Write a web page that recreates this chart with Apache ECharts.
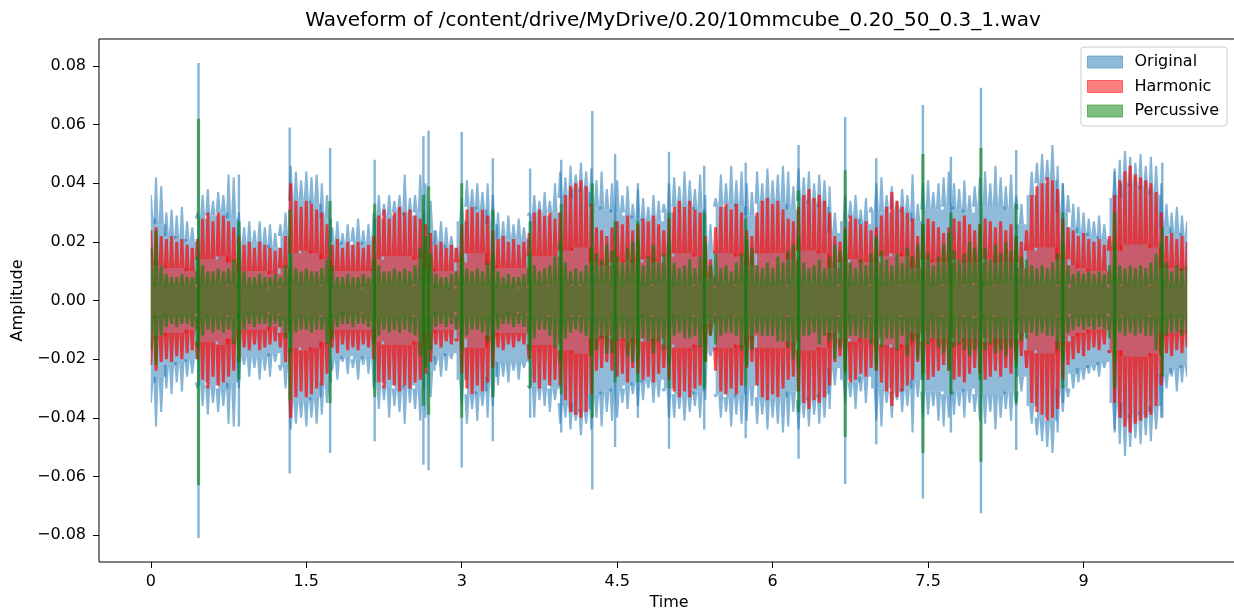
<!DOCTYPE html>
<html>
<head>
<meta charset="utf-8">
<script src="https://cdn.jsdelivr.net/npm/echarts@6/dist/echarts.min.js"></script>
<style>
  html, body { margin: 0; padding: 0; background: #ffffff; }
  #chart { width: 1234px; height: 612px; }
</style>
</head>
<body>
<div id="chart"></div>
<script>
// Waveform envelopes of the original signal and its harmonic / percussive parts.
const TITLE = 'Waveform of /content/drive/MyDrive/0.20/10mmcube_0.20_50_0.3_1.wav';
const SERIES_NAMES = ['Original', 'Harmonic', 'Percussive'];
const FRAME_STEP = 0.05;   // seconds between envelope frames
const CORE_STEP = 0.1;     // seconds between steady-core frames

// Original signal: upper / lower envelope, one value per frame (0 .. 10 s)
const origHi = [
  0.036, 0.042, 0.039, 0.030, 0.031, 0.029, 0.032, 0.027, 0.025, 0.030,
  0.036, 0.038, 0.034, 0.037, 0.036, 0.043, 0.042, 0.030, 0.025, 0.027,
  0.024, 0.027, 0.025, 0.026, 0.023, 0.026, 0.030, 0.046, 0.044, 0.041,
  0.044, 0.042, 0.043, 0.040, 0.036, 0.025, 0.027, 0.023, 0.026, 0.025,
  0.028, 0.024, 0.026, 0.030, 0.036, 0.033, 0.036, 0.034, 0.036, 0.043,
  0.035, 0.036, 0.043, 0.040, 0.034, 0.024, 0.027, 0.025, 0.022, 0.026,
  0.035, 0.041, 0.038, 0.040, 0.037, 0.040, 0.036, 0.030, 0.027, 0.029,
  0.026, 0.028, 0.025, 0.030, 0.036, 0.034, 0.037, 0.034, 0.040, 0.044,
  0.042, 0.046, 0.043, 0.047, 0.044, 0.045, 0.041, 0.044, 0.038, 0.040,
  0.041, 0.036, 0.039, 0.033, 0.038, 0.035, 0.032, 0.036, 0.034, 0.033,
  0.040, 0.042, 0.039, 0.044, 0.041, 0.038, 0.043, 0.036, 0.026, 0.035,
  0.043, 0.040, 0.046, 0.041, 0.044, 0.040, 0.037, 0.044, 0.040, 0.045,
  0.041, 0.043, 0.046, 0.044, 0.039, 0.045, 0.042, 0.044, 0.040, 0.043,
  0.041, 0.039, 0.030, 0.027, 0.036, 0.034, 0.036, 0.031, 0.035, 0.032,
  0.040, 0.042, 0.036, 0.039, 0.034, 0.038, 0.036, 0.043, 0.033, 0.040,
  0.041, 0.037, 0.040, 0.042, 0.044, 0.040, 0.038, 0.041, 0.036, 0.039,
  0.042, 0.044, 0.040, 0.046, 0.042, 0.039, 0.043, 0.036, 0.033, 0.036,
  0.044, 0.047, 0.050, 0.048, 0.053, 0.046, 0.040, 0.036, 0.033, 0.032,
  0.030, 0.028, 0.027, 0.029, 0.026, 0.030, 0.044, 0.048, 0.051, 0.049,
  0.047, 0.050, 0.046, 0.049, 0.046, 0.040, 0.033, 0.030, 0.032, 0.029,
  0.027
];
const origLo = [
  -0.035, -0.043, -0.038, -0.030, -0.032, -0.028, -0.031, -0.026, -0.025, -0.030,
  -0.036, -0.039, -0.035, -0.038, -0.036, -0.042, -0.043, -0.030, -0.022, -0.026,
  -0.023, -0.027, -0.024, -0.026, -0.021, -0.024, -0.030, -0.044, -0.042, -0.040,
  -0.043, -0.040, -0.042, -0.039, -0.035, -0.024, -0.027, -0.021, -0.025, -0.023,
  -0.027, -0.022, -0.025, -0.030, -0.037, -0.034, -0.040, -0.036, -0.038, -0.042,
  -0.035, -0.037, -0.041, -0.040, -0.033, -0.022, -0.026, -0.024, -0.020, -0.025,
  -0.036, -0.042, -0.037, -0.041, -0.036, -0.040, -0.036, -0.029, -0.026, -0.028,
  -0.024, -0.027, -0.023, -0.030, -0.040, -0.034, -0.036, -0.038, -0.034, -0.042,
  -0.040, -0.044, -0.041, -0.046, -0.042, -0.044, -0.040, -0.043, -0.038, -0.041,
  -0.040, -0.035, -0.037, -0.032, -0.036, -0.034, -0.030, -0.035, -0.033, -0.031,
  -0.040, -0.040, -0.037, -0.041, -0.038, -0.036, -0.040, -0.034, -0.019, -0.033,
  -0.040, -0.038, -0.043, -0.039, -0.042, -0.041, -0.036, -0.042, -0.039, -0.044,
  -0.040, -0.042, -0.045, -0.043, -0.038, -0.044, -0.040, -0.043, -0.039, -0.042,
  -0.040, -0.037, -0.029, -0.026, -0.035, -0.033, -0.037, -0.031, -0.035, -0.030,
  -0.041, -0.043, -0.035, -0.040, -0.034, -0.038, -0.036, -0.045, -0.033, -0.040,
  -0.039, -0.036, -0.041, -0.043, -0.040, -0.039, -0.036, -0.040, -0.035, -0.038,
  -0.041, -0.042, -0.038, -0.044, -0.040, -0.037, -0.041, -0.036, -0.031, -0.035,
  -0.042, -0.046, -0.048, -0.050, -0.052, -0.045, -0.038, -0.033, -0.030, -0.028,
  -0.027, -0.025, -0.024, -0.026, -0.023, -0.028, -0.044, -0.049, -0.053, -0.050,
  -0.047, -0.049, -0.046, -0.048, -0.044, -0.040, -0.030, -0.026, -0.031, -0.028,
  -0.026
];

// Harmonic component envelope
const harmHi = [
  0.024, 0.025, 0.022, 0.021, 0.022, 0.020, 0.021, 0.019, 0.018, 0.021,
  0.028, 0.030, 0.027, 0.030, 0.029, 0.027, 0.025, 0.022, 0.019, 0.020,
  0.018, 0.020, 0.019, 0.018, 0.017, 0.018, 0.022, 0.040, 0.034, 0.032,
  0.034, 0.033, 0.031, 0.030, 0.026, 0.019, 0.021, 0.018, 0.020, 0.019,
  0.020, 0.018, 0.019, 0.022, 0.029, 0.031, 0.028, 0.030, 0.032, 0.030,
  0.031, 0.029, 0.028, 0.026, 0.023, 0.019, 0.020, 0.018, 0.019, 0.018,
  0.026, 0.031, 0.032, 0.030, 0.031, 0.029, 0.024, 0.021, 0.022, 0.020,
  0.021, 0.019, 0.020, 0.023, 0.030, 0.031, 0.029, 0.030, 0.028, 0.030,
  0.036, 0.039, 0.040, 0.041, 0.039, 0.033, 0.025, 0.024, 0.022, 0.025,
  0.027, 0.026, 0.029, 0.024, 0.026, 0.028, 0.027, 0.029, 0.026, 0.024,
  0.028, 0.032, 0.034, 0.032, 0.034, 0.031, 0.030, 0.022, 0.014, 0.025,
  0.032, 0.033, 0.031, 0.033, 0.030, 0.024, 0.022, 0.030, 0.034, 0.035,
  0.033, 0.034, 0.031, 0.028, 0.027, 0.032, 0.036, 0.038, 0.035, 0.036,
  0.034, 0.030, 0.022, 0.020, 0.025, 0.029, 0.028, 0.026, 0.027, 0.024,
  0.025, 0.029, 0.032, 0.037, 0.034, 0.032, 0.030, 0.028, 0.022, 0.026,
  0.028, 0.027, 0.025, 0.023, 0.025, 0.028, 0.027, 0.029, 0.026, 0.024,
  0.026, 0.028, 0.027, 0.025, 0.027, 0.024, 0.026, 0.022, 0.020, 0.024,
  0.036, 0.039, 0.040, 0.042, 0.041, 0.038, 0.028, 0.025, 0.024, 0.022,
  0.023, 0.021, 0.020, 0.021, 0.019, 0.022, 0.036, 0.041, 0.044, 0.046,
  0.043, 0.042, 0.041, 0.040, 0.037, 0.030, 0.022, 0.023, 0.021, 0.022,
  0.020
];
const harmLo = [
  -0.022, -0.024, -0.021, -0.020, -0.021, -0.019, -0.020, -0.018, -0.017, -0.020,
  -0.027, -0.030, -0.026, -0.029, -0.028, -0.026, -0.024, -0.021, -0.016, -0.017,
  -0.015, -0.017, -0.016, -0.015, -0.014, -0.016, -0.021, -0.040, -0.033, -0.031,
  -0.033, -0.032, -0.030, -0.029, -0.025, -0.016, -0.018, -0.015, -0.017, -0.016,
  -0.017, -0.015, -0.016, -0.020, -0.028, -0.030, -0.027, -0.029, -0.031, -0.029,
  -0.030, -0.028, -0.027, -0.025, -0.021, -0.015, -0.016, -0.014, -0.015, -0.014,
  -0.025, -0.030, -0.032, -0.029, -0.031, -0.028, -0.023, -0.016, -0.017, -0.015,
  -0.016, -0.014, -0.015, -0.020, -0.028, -0.030, -0.027, -0.029, -0.027, -0.029,
  -0.034, -0.038, -0.039, -0.040, -0.038, -0.032, -0.024, -0.023, -0.021, -0.024,
  -0.026, -0.025, -0.028, -0.023, -0.025, -0.027, -0.026, -0.028, -0.025, -0.023,
  -0.027, -0.031, -0.033, -0.031, -0.033, -0.030, -0.029, -0.021, -0.012, -0.024,
  -0.031, -0.032, -0.030, -0.032, -0.029, -0.023, -0.021, -0.029, -0.033, -0.034,
  -0.032, -0.033, -0.030, -0.027, -0.026, -0.031, -0.035, -0.037, -0.034, -0.035,
  -0.033, -0.029, -0.021, -0.019, -0.024, -0.028, -0.027, -0.025, -0.026, -0.023,
  -0.024, -0.028, -0.031, -0.036, -0.033, -0.031, -0.029, -0.027, -0.021, -0.025,
  -0.027, -0.026, -0.024, -0.022, -0.024, -0.027, -0.026, -0.028, -0.025, -0.023,
  -0.025, -0.027, -0.026, -0.024, -0.026, -0.023, -0.025, -0.021, -0.019, -0.023,
  -0.035, -0.038, -0.039, -0.041, -0.040, -0.037, -0.027, -0.022, -0.020, -0.018,
  -0.019, -0.017, -0.016, -0.017, -0.015, -0.018, -0.035, -0.040, -0.043, -0.045,
  -0.042, -0.041, -0.040, -0.039, -0.036, -0.029, -0.018, -0.019, -0.017, -0.018,
  -0.016
];

// Percussive component envelope
const percHi = [
  0.018, 0.024, 0.012, 0.009, 0.008, 0.008, 0.009, 0.008, 0.008, 0.015,
  0.012, 0.010, 0.010, 0.011, 0.010, 0.011, 0.014, 0.020, 0.010, 0.008,
  0.008, 0.009, 0.008, 0.008, 0.009, 0.008, 0.012, 0.016, 0.011, 0.010,
  0.011, 0.010, 0.010, 0.011, 0.014, 0.012, 0.008, 0.008, 0.009, 0.008,
  0.008, 0.009, 0.008, 0.014, 0.012, 0.010, 0.010, 0.011, 0.010, 0.011,
  0.010, 0.012, 0.018, 0.022, 0.016, 0.009, 0.008, 0.008, 0.009, 0.010,
  0.016, 0.011, 0.010, 0.011, 0.010, 0.013, 0.016, 0.010, 0.008, 0.009,
  0.008, 0.008, 0.009, 0.016, 0.012, 0.010, 0.011, 0.012, 0.015, 0.020,
  0.013, 0.010, 0.011, 0.010, 0.012, 0.018, 0.016, 0.014, 0.019, 0.017,
  0.015, 0.013, 0.018, 0.020, 0.021, 0.012, 0.015, 0.019, 0.013, 0.016,
  0.020, 0.013, 0.011, 0.012, 0.014, 0.011, 0.015, 0.020, 0.012, 0.016,
  0.011, 0.012, 0.010, 0.013, 0.016, 0.021, 0.018, 0.012, 0.011, 0.013,
  0.011, 0.015, 0.013, 0.017, 0.019, 0.022, 0.013, 0.011, 0.012, 0.014,
  0.011, 0.015, 0.019, 0.017, 0.024, 0.013, 0.011, 0.014, 0.012, 0.016,
  0.021, 0.017, 0.014, 0.012, 0.016, 0.013, 0.018, 0.015, 0.019, 0.026,
  0.016, 0.012, 0.015, 0.019, 0.023, 0.017, 0.014, 0.016, 0.020, 0.018,
  0.026, 0.018, 0.014, 0.019, 0.016, 0.020, 0.017, 0.022, 0.015, 0.014,
  0.012, 0.011, 0.012, 0.011, 0.013, 0.016, 0.020, 0.012, 0.009, 0.010,
  0.009, 0.010, 0.009, 0.010, 0.009, 0.012, 0.020, 0.012, 0.011, 0.012,
  0.011, 0.012, 0.011, 0.013, 0.016, 0.020, 0.013, 0.010, 0.012, 0.011,
  0.012
];
const percLo = [
  -0.017, -0.022, -0.012, -0.009, -0.008, -0.009, -0.008, -0.008, -0.009, -0.016,
  -0.012, -0.010, -0.011, -0.010, -0.011, -0.010, -0.015, -0.021, -0.010, -0.008,
  -0.009, -0.008, -0.008, -0.009, -0.008, -0.009, -0.013, -0.018, -0.011, -0.010,
  -0.010, -0.011, -0.010, -0.010, -0.015, -0.013, -0.009, -0.008, -0.008, -0.009,
  -0.008, -0.008, -0.009, -0.015, -0.012, -0.010, -0.011, -0.010, -0.011, -0.010,
  -0.011, -0.012, -0.019, -0.023, -0.017, -0.009, -0.008, -0.009, -0.008, -0.010,
  -0.017, -0.012, -0.010, -0.010, -0.011, -0.014, -0.017, -0.010, -0.008, -0.008,
  -0.009, -0.008, -0.009, -0.017, -0.013, -0.010, -0.010, -0.012, -0.016, -0.021,
  -0.013, -0.011, -0.010, -0.011, -0.012, -0.019, -0.017, -0.013, -0.018, -0.018,
  -0.014, -0.013, -0.019, -0.021, -0.020, -0.013, -0.014, -0.018, -0.014, -0.017,
  -0.021, -0.012, -0.011, -0.013, -0.013, -0.012, -0.016, -0.021, -0.012, -0.015,
  -0.012, -0.011, -0.011, -0.012, -0.017, -0.022, -0.017, -0.011, -0.012, -0.012,
  -0.012, -0.014, -0.014, -0.016, -0.020, -0.023, -0.012, -0.012, -0.011, -0.015,
  -0.012, -0.014, -0.020, -0.016, -0.025, -0.012, -0.012, -0.013, -0.013, -0.015,
  -0.022, -0.016, -0.013, -0.013, -0.017, -0.012, -0.019, -0.014, -0.020, -0.027,
  -0.015, -0.013, -0.016, -0.018, -0.024, -0.016, -0.015, -0.017, -0.019, -0.017,
  -0.027, -0.017, -0.015, -0.018, -0.017, -0.019, -0.016, -0.023, -0.014, -0.013,
  -0.011, -0.012, -0.011, -0.012, -0.012, -0.017, -0.021, -0.011, -0.010, -0.009,
  -0.010, -0.009, -0.010, -0.009, -0.010, -0.013, -0.021, -0.011, -0.012, -0.011,
  -0.012, -0.011, -0.012, -0.012, -0.017, -0.019, -0.012, -0.011, -0.011, -0.012,
  -0.011
];

// Half-width of the steady (always covered) core of each signal, every 0.1 s
const origCore = [
  0.028, 0.026, 0.022, 0.021, 0.020, 0.028, 0.029, 0.030, 0.028, 0.019,
  0.019, 0.019, 0.018, 0.022, 0.034, 0.034, 0.033, 0.028, 0.020, 0.019,
  0.020, 0.019, 0.028, 0.029, 0.030, 0.029, 0.030, 0.024, 0.019, 0.018,
  0.027, 0.032, 0.031, 0.026, 0.021, 0.021, 0.021, 0.029, 0.029, 0.030,
  0.035, 0.038, 0.037, 0.032, 0.031, 0.030, 0.029, 0.028, 0.027, 0.027,
  0.030, 0.032, 0.032, 0.031, 0.017, 0.032, 0.033, 0.032, 0.029, 0.033,
  0.033, 0.033, 0.031, 0.034, 0.033, 0.032, 0.023, 0.027, 0.028, 0.026,
  0.030, 0.030, 0.031, 0.030, 0.027, 0.031, 0.031, 0.032, 0.031, 0.030,
  0.032, 0.032, 0.032, 0.031, 0.026, 0.036, 0.040, 0.041, 0.030, 0.025,
  0.023, 0.022, 0.021, 0.035, 0.040, 0.039, 0.038, 0.036, 0.025, 0.023,
  0.022
];
const harmCore = [
  0.013, 0.012, 0.011, 0.011, 0.010, 0.014, 0.014, 0.015, 0.013, 0.010,
  0.010, 0.010, 0.009, 0.011, 0.016, 0.017, 0.016, 0.014, 0.010, 0.010,
  0.010, 0.010, 0.014, 0.015, 0.015, 0.015, 0.014, 0.011, 0.010, 0.010,
  0.013, 0.016, 0.016, 0.012, 0.011, 0.011, 0.011, 0.015, 0.015, 0.015,
  0.017, 0.018, 0.018, 0.013, 0.012, 0.013, 0.014, 0.013, 0.014, 0.013,
  0.015, 0.016, 0.016, 0.015, 0.008, 0.016, 0.016, 0.015, 0.012, 0.016,
  0.016, 0.016, 0.014, 0.017, 0.017, 0.016, 0.011, 0.013, 0.014, 0.013,
  0.013, 0.015, 0.016, 0.015, 0.011, 0.014, 0.013, 0.013, 0.014, 0.013,
  0.013, 0.014, 0.013, 0.013, 0.011, 0.017, 0.018, 0.018, 0.014, 0.012,
  0.011, 0.010, 0.010, 0.017, 0.019, 0.019, 0.019, 0.018, 0.011, 0.011,
  0.010
];
const percCore = [
  0.0060, 0.0050, 0.0045, 0.0045, 0.0045, 0.0055, 0.0050, 0.0050, 0.0055, 0.0045,
  0.0040, 0.0040, 0.0045, 0.0050, 0.0055, 0.0050, 0.0050, 0.0055, 0.0045, 0.0040,
  0.0040, 0.0045, 0.0050, 0.0050, 0.0050, 0.0050, 0.0055, 0.0050, 0.0040, 0.0040,
  0.0050, 0.0050, 0.0050, 0.0050, 0.0045, 0.0040, 0.0045, 0.0050, 0.0050, 0.0055,
  0.0055, 0.0050, 0.0055, 0.0055, 0.0055, 0.0050, 0.0055, 0.0055, 0.0050, 0.0055,
  0.0055, 0.0050, 0.0050, 0.0055, 0.0045, 0.0050, 0.0050, 0.0055, 0.0050, 0.0050,
  0.0050, 0.0050, 0.0055, 0.0050, 0.0050, 0.0050, 0.0050, 0.0055, 0.0050, 0.0050,
  0.0055, 0.0050, 0.0050, 0.0055, 0.0055, 0.0055, 0.0050, 0.0055, 0.0050, 0.0055,
  0.0060, 0.0050, 0.0055, 0.0055, 0.0050, 0.0050, 0.0050, 0.0050, 0.0055, 0.0045,
  0.0045, 0.0045, 0.0045, 0.0055, 0.0050, 0.0050, 0.0050, 0.0055, 0.0050, 0.0045,
  0.0045
];

// Short onsets (impacts): time in seconds and peak amplitudes
const onsetTimes = [0.46, 0.85, 1.34, 1.73, 2.16, 2.63, 2.68, 3.00, 3.30, 3.66, 3.96, 4.26, 4.48, 4.70,
  5.00, 5.34, 5.74, 6.25, 6.70, 7.00, 7.45, 7.72, 8.01, 8.35, 8.80, 9.30, 9.76];
const onsetOrigHi = [0.081, 0.043, 0.059, 0.052, 0.048, 0.056, 0.058, 0.0575, 0.0485, 0.045, 0.048, 0.0646, 0.050, 0.040,
  0.0507, 0.046, 0.047, 0.053, 0.0626, 0.0485, 0.0667, 0.049, 0.0726, 0.0513, 0.040, 0.045, 0.047];
const onsetOrigLo = [-0.081, -0.043, -0.059, -0.052, -0.048, -0.056, -0.058, -0.057, -0.048, -0.040, -0.045, -0.0645, -0.050, -0.040,
  -0.0506, -0.044, -0.047, -0.054, -0.0626, -0.049, -0.0675, -0.045, -0.0726, -0.051, -0.035, -0.045, -0.040];
const onsetPercHi = [0.062, 0.027, 0.031, 0.034, 0.033, 0.036, 0.039, 0.040, 0.031, 0.027, 0.033, 0.040, 0.027, 0.027,
  0.030, 0.030, 0.028, 0.0375, 0.0444, 0.022, 0.050, 0.030, 0.052, 0.033, 0.030, 0.030, 0.025];
const onsetPercLo = [-0.063, -0.027, -0.034, -0.035, -0.033, -0.036, -0.039, -0.040, -0.033, -0.030, -0.032, -0.040, -0.028, -0.028,
  -0.030, -0.030, -0.029, -0.038, -0.0466, -0.024, -0.052, -0.032, -0.055, -0.035, -0.030, -0.030, -0.026];

const xTicks = [0, 1.5, 3, 4.5, 6, 7.5, 9];
const yTicks = [-0.08, -0.06, -0.04, -0.02, 0, 0.02, 0.04, 0.06, 0.08];

const COLORS = {
  Original: [31, 119, 180],
  Harmonic: [255, 0, 0],
  Percussive: [0, 128, 0]
};
// drawing style per signal: alpha of the steady core and of the spiky fringe, px widths
const STYLE = {
  Original: { coreAlpha: 0.5, spikeAlpha: 0.55, tipWidth: 2.0, onsetWidth: 2.4 },
  Harmonic: { coreAlpha: 0.5, spikeAlpha: 0.7, tipWidth: 3.0, onsetWidth: 0 },
  Percussive: { coreAlpha: 0.5, spikeAlpha: 0.6, tipWidth: 2.8, onsetWidth: 3.2 }
};
const rgba = (c, a) => `rgba(${c[0]},${c[1]},${c[2]},${a})`;
const FONT = 'DejaVu Sans';

// Step-shaped band between an upper and a lower curve, in pixel coordinates
function stepBand(api, upper, lower, step, tEnd) {
  const pts = [];
  for (let i = 0; i < upper.length; i++) {
    const t0 = Math.max(0, (i - 0.5) * step);
    const t1 = Math.min(tEnd, (i + 0.5) * step);
    pts.push(api.coord([t0, upper[i]]), api.coord([t1, upper[i]]));
  }
  for (let i = lower.length - 1; i >= 0; i--) {
    const t0 = Math.max(0, (i - 0.5) * step);
    const t1 = Math.min(tEnd, (i + 0.5) * step);
    pts.push(api.coord([t1, lower[i]]), api.coord([t0, lower[i]]));
  }
  return pts;
}

// Tapered spike for one frame: full frame width at the core level, narrow at the peak
function spike(api, t, base, peak, tipW, xMin, xMax, fill) {
  const c = api.coord([t, base]);
  const p = api.coord([t, peak]);
  const half = (api.coord([t + FRAME_STEP / 2, 0])[0] - c[0]);
  const xl = Math.max(xMin, c[0] - half), xr = Math.min(xMax, c[0] + half);
  const tl = Math.max(xMin, c[0] - tipW / 2), tr = Math.min(xMax, c[0] + tipW / 2);
  return {
    type: 'polygon',
    shape: { points: [[xl, c[1]], [tl, p[1]], [tr, p[1]], [xr, c[1]]] },
    style: { fill: fill }
  };
}

function vbar(api, t, v0, v1, w, fill) {
  const a = api.coord([t, v0]);
  const b = api.coord([t, v1]);
  return {
    type: 'rect',
    shape: { x: a[0] - w / 2, y: Math.min(a[1], b[1]), width: w, height: Math.abs(a[1] - b[1]) },
    style: { fill: fill }
  };
}

function waveSeries(name, hi, lo, core, onsetHi, onsetLo) {
  const color = COLORS[name];
  const st = STYLE[name];
  const tEnd = (hi.length - 1) * FRAME_STEP;
  const data = hi.map((h, i) => [i * FRAME_STEP, lo[i], h]);
  const coreAt = (t) => core[Math.min(core.length - 1, Math.round(t / CORE_STEP))];
  return {
    type: 'custom',
    name: name,
    data: data,
    encode: { x: 0, y: [1, 2] },
    itemStyle: { color: rgba(color, 0.5) },
    clip: true,
    silent: true,
    renderItem: function (params, api) {
      if (params.dataIndex !== 0) return null;
      const children = [];
      const xMin = api.coord([0, 0])[0];
      const xMax = api.coord([tEnd, 0])[0];
      // steady core
      children.push({
        type: 'polygon',
        shape: { points: stepBand(api, core, core.map(v => -v), CORE_STEP, tEnd) },
        style: { fill: rgba(color, st.coreAlpha) }
      });
      // spiky fringe above / below the core, one spike per frame
      const fill = rgba(color, st.spikeAlpha);
      for (let i = 0; i < hi.length; i++) {
        const t = i * FRAME_STEP;
        const c = coreAt(t);
        if (hi[i] > c) children.push(spike(api, t, c, hi[i], st.tipWidth, xMin, xMax, fill));
        if (lo[i] < -c) children.push(spike(api, t, -c, lo[i], st.tipWidth, xMin, xMax, fill));
      }
      // onset spikes
      if (onsetHi) {
        onsetTimes.forEach((t, k) => {
          children.push(vbar(api, t, onsetLo[k], onsetHi[k], st.onsetWidth, rgba(color, 0.55)));
        });
      }
      return { type: 'group', children: children };
    }
  };
}

const chart = echarts.init(document.getElementById('chart'), null, { renderer: 'canvas' });

chart.setOption({
  animation: false,
  backgroundColor: '#ffffff',
  title: {
    text: TITLE,
    left: 668,
    top: 6,
    textAlign: 'center',
    textStyle: { fontFamily: FONT, fontSize: 20, fontWeight: 'normal', color: '#000' }
  },
  legend: {
    orient: 'vertical',
    left: 1081,
    top: 47,
    padding: [7, 8, 7, 6],
    itemWidth: 35,
    itemHeight: 12,
    itemGap: 8.5,
    selectedMode: false,
    backgroundColor: 'rgba(255,255,255,0.8)',
    borderColor: '#cccccc',
    borderWidth: 1,
    borderRadius: 3,
    textStyle: { fontFamily: FONT, fontSize: 16, color: '#000', lineHeight: 16, padding: [0, 0, 0, 7] },
    data: SERIES_NAMES.map(n => ({
      name: n,
      icon: 'rect',
      itemStyle: { color: rgba(COLORS[n], 0.5), borderColor: rgba(COLORS[n], 0.5), borderWidth: 1 }
    }))
  },
  grid: {
    left: 99,
    top: 39,
    width: 1140,
    height: 523,
    outerBoundsMode: 'none',
    containLabel: false,
    show: true,
    borderColor: '#000',
    borderWidth: 1,
    backgroundColor: 'transparent'
  },
  xAxis: {
    type: 'value',
    min: -0.5,
    max: 10.5,
    name: 'Time',
    nameLocation: 'middle',
    nameGap: 33,
    nameTextStyle: { fontFamily: FONT, fontSize: 16, color: '#000' },
    axisLine: { show: false, onZero: false },
    splitLine: { show: false },
    axisTick: { show: true, customValues: xTicks, length: 6, lineStyle: { color: '#000', width: 1 } },
    axisLabel: {
      customValues: xTicks,
      margin: 12,
      fontFamily: FONT, fontSize: 16, color: '#000',
      formatter: v => String(v)
    }
  },
  yAxis: {
    type: 'value',
    min: -0.0892,
    max: 0.0892,
    name: 'Amplitude',
    nameLocation: 'middle',
    nameGap: 71,
    nameTextStyle: { fontFamily: FONT, fontSize: 16, color: '#000' },
    axisLine: { show: false, onZero: false },
    splitLine: { show: false },
    axisTick: { show: true, customValues: yTicks, length: 6, lineStyle: { color: '#000', width: 1 } },
    axisLabel: {
      customValues: yTicks,
      margin: 13,
      fontFamily: FONT, fontSize: 16, color: '#000',
      formatter: v => (v < -1e-9 ? '\u2212' : '') + Math.abs(v).toFixed(2)
    }
  },
  series: [
    waveSeries('Original', origHi, origLo, origCore, onsetOrigHi, onsetOrigLo),
    waveSeries('Harmonic', harmHi, harmLo, harmCore, null, null),
    waveSeries('Percussive', percHi, percLo, percCore, onsetPercHi, onsetPercLo)
  ]
});
</script>
</body>
</html>
